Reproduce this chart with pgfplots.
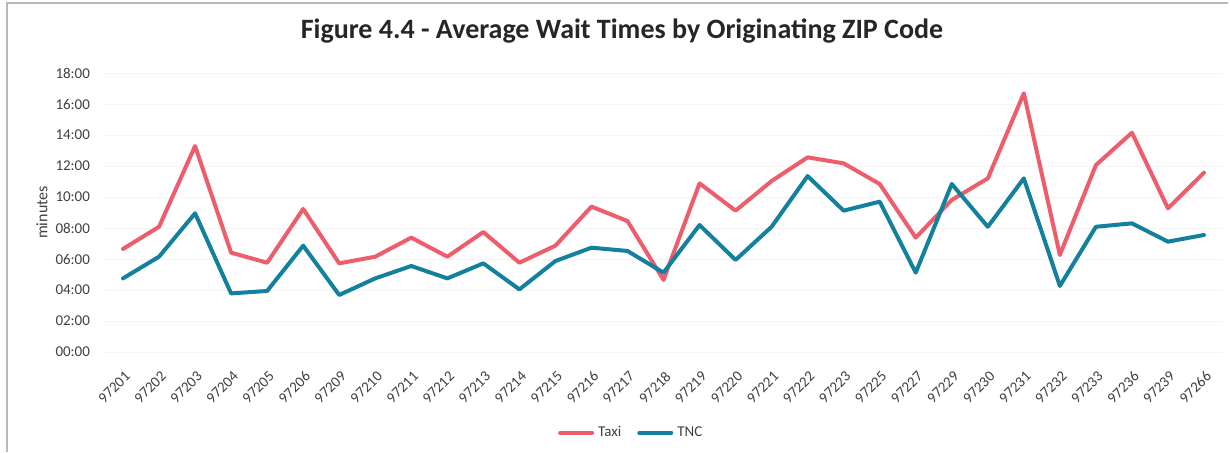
\documentclass[border=0pt]{standalone}
\usepackage{pgfplots}
\pgfplotsset{compat=1.18}
\usepackage{fontspec}
\setmainfont{Carlito}
\definecolor{taxi}{HTML}{EE5D6C}
\definecolor{tnc}{HTML}{13809E}
\definecolor{txt}{HTML}{404040}

% average wait, decimal minutes, one row per ZIP code
\pgfplotstableread{
idx zip   taxi  tnc
0  97201  6.65  4.75
1  97202  8.08  6.15
2  97203  13.29 8.95
3  97204  6.41  3.78
4  97205  5.76  3.94
5  97206  9.23  6.86
6  97209  5.72  3.68
7  97210  6.15  4.75
8  97211  7.38  5.55
9  97212  6.15  4.75
10 97213  7.74  5.72
11 97214  5.76  4.04
12 97215  6.86  5.87
13 97216  9.38  6.73
14 97217  8.45  6.52
15 97218  4.65  5.12
16 97219  10.88 8.19
17 97220  9.12  5.94
18 97221  11.03 8.08
19 97222  12.56 11.35
20 97223  12.17 9.12
21 97225  10.84 9.70
22 97227  7.38  5.12
23 97229  9.81  10.84
24 97230  11.20 8.08
25 97231  16.69 11.20
26 97232  6.26  4.26
27 97233  12.06 8.08
28 97236  14.15 8.30
29 97239  9.27  7.12
30 97266  11.57 7.55
}\waittimes

\begin{document}
\begin{tikzpicture}
\path[use as bounding box] (0,0) rectangle (615pt,226pt);
% chart frame
\draw[gray!55, line width=0.7pt] (3.5pt,0) -- (3.5pt,224.5pt) -- (614pt,224.5pt);
\node[font=\bfseries\fontsize{14}{16}\selectfont, text=black!85] at (311pt,210.5pt)
  {Figure 4.4 - Average Wait Times by Originating ZIP Code};
\begin{axis}[
  at={(52.5pt,50pt)}, anchor=south west, scale only axis,
  width=558.5pt, height=139.5pt,
  xmin=-0.5, xmax=30.5, ymin=0, ymax=18,
  xtick={0,...,30},
  xticklabels={97201,97202,97203,97204,97205,97206,97209,97210,97211,97212,97213,97214,97215,97216,97217,97218,97219,97220,97221,97222,97223,97225,97227,97229,97230,97231,97232,97233,97236,97239,97266},
  ytick={0,2,...,18},
  yticklabels={00:00,02:00,04:00,06:00,08:00,10:00,12:00,14:00,16:00,18:00},
  axis line style={draw=none}, major tick style={draw=none},
  ymajorgrids, grid style={gray!8, line width=0.5pt},
  ticklabel style={font=\fontsize{7.5}{9}\selectfont, text=txt},
  xticklabel style={xshift=0.5pt, yshift=-4.2pt, rotate=45, anchor=north east},
  yticklabel style={anchor=east, xshift=-4pt},
  ylabel={minutes},
  ylabel style={at={(axis description cs:-0.0564,0.5)}, anchor=center,
    font=\fontsize{8}{9}\selectfont, text=txt},
  legend style={at={(axis description cs:0.472,-0.29)}, anchor=center,
    draw=none, fill=none, legend columns=2,
    font=\fontsize{7.5}{9}\selectfont, text=txt,
    /tikz/every even column/.append style={column sep=6pt}},
  legend image code/.code={\draw[#1] (0pt,0pt) -- (16pt,0pt);},
  every axis plot/.append style={line width=2pt, line join=round, line cap=round},
]
\addplot[taxi] table[x=idx, y=taxi] {\waittimes};
\addlegendentry{Taxi}
\addplot[tnc] table[x=idx, y=tnc] {\waittimes};
\addlegendentry{TNC}
\end{axis}
\end{tikzpicture}
\end{document}
